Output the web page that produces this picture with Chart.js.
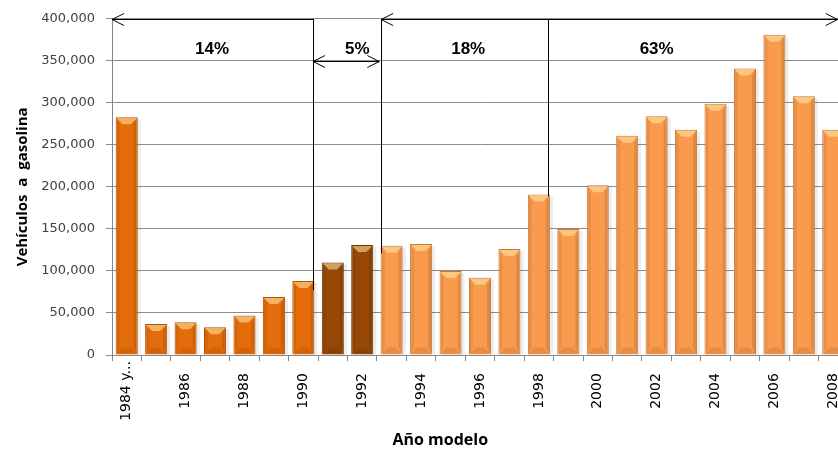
<!DOCTYPE html>
<html>
<head>
<meta charset="utf-8">
<script src="https://cdn.jsdelivr.net/npm/chart.js@4.4.0/dist/chart.umd.min.js"></script>
<style>
  html, body { margin: 0; padding: 0; background: #fff; overflow: hidden; width: 838px; height: 451px; }
  canvas { display: block; }
</style>
</head>
<body>
<canvas id="myChart" width="850" height="451"></canvas>
<script>
const years = ["1984 y...", "1985", "1986", "1987", "1988", "1989", "1990", "1991", "1992",
  "1993", "1994", "1995", "1996", "1997", "1998", "1999", "2000", "2001", "2002",
  "2003", "2004", "2005", "2006", "2007", "2008"];
const vehicles = [283000, 37000, 39000, 33000, 47000, 69000, 88000, 110000, 131000,
  130000, 132000, 100000, 92000, 126000, 191000, 150000, 202000, 261000, 284000,
  268000, 299000, 341000, 381000, 308000, 268000];
// which period each model year belongs to (0 = 14%, 1 = 5%, 2 = 18% and 63%)
const groups = [0, 0, 0, 0, 0, 0, 0, 1, 1, 2, 2, 2, 2, 2, 2, 2, 2, 2, 2, 2, 2, 2, 2, 2, 2];
const yTicks = [0, 50000, 100000, 150000, 200000, 250000, 300000, 350000, 400000];
const shares = ["14%", "5%", "18%", "63%"];

const fills = ["#e46c0a", "#974806", "#f99a4c"];
const borders = ["#b25408", "#6e3404", "#c8763a"];

// period markers, in category index / value units
const dividers = [
  { x: 6.33, from: 400000, to: 77000 },
  { x: 8.64, from: 400000, to: 121000 },
  { x: 14.31, from: 400000, to: 189000 },
];
const spans = [
  { x1: -0.5, x2: 6.33, y: 400000, left: true, right: false },
  { x1: 6.33, x2: 8.58, y: 350000, left: true, right: true },
  { x1: 8.64, x2: 24.15, y: 400000, left: true, right: true },
];
const shareSpots = [{ x: 2.9, y: 364000 }, { x: 7.83, y: 364000 }, { x: 11.6, y: 364000 }, { x: 18.0, y: 364000 }];

function poly(ctx, pts, fill) {
  ctx.beginPath();
  ctx.moveTo(pts[0][0], pts[0][1]);
  for (let i = 1; i < pts.length; i++) ctx.lineTo(pts[i][0], pts[i][1]);
  ctx.closePath();
  ctx.fillStyle = fill;
  ctx.fill();
}

// soft shadow behind and bevel on top of each bar
const bevel = {
  id: "bevel",
  beforeDatasetsDraw(chart) {
    const ctx = chart.ctx;
    ctx.save();
    chart.getDatasetMeta(0).data.forEach(b => {
      const l = b.x - b.width / 2;
      ctx.fillStyle = "rgba(0,0,0,0.07)";
      ctx.fillRect(l + 2, b.y + 2, b.width + 1, b.base - b.y - 2);
    });
    ctx.restore();
  },
  afterDatasetsDraw(chart) {
    const ctx = chart.ctx;
    ctx.save();
    chart.getDatasetMeta(0).data.forEach(b => {
      const l = b.x - b.width / 2 + 1, r = b.x + b.width / 2 - 1;
      const t = b.y + 1, btm = b.base - 1;
      const d = 6, s = 3;
      poly(ctx, [[l, t], [r, t], [r - d, t + d], [l + d, t + d]], "rgba(255,236,170,0.55)");
      poly(ctx, [[l, btm], [r, btm], [r - d, btm - d], [l + d, btm - d]], "rgba(0,0,0,0.08)");
      poly(ctx, [[l, t], [l + s, t + d], [l + s, btm - d], [l, btm]], "rgba(0,0,0,0.07)");
      poly(ctx, [[r, t], [r - s, t + d], [r - s, btm - d], [r, btm]], "rgba(0,0,0,0.11)");
    });
    ctx.restore();
  }
};

const notes = {
  id: "notes",
  afterDraw(chart) {
    const { ctx, chartArea } = chart;
    const xs = chart.scales.x, ys = chart.scales.y;
    ctx.save();
    ctx.strokeStyle = "#000";
    ctx.lineWidth = 1;
    dividers.forEach(d => {
      const x = Math.round(xs.getPixelForValue(d.x)) + 0.5;
      ctx.beginPath();
      ctx.moveTo(x, ys.getPixelForValue(d.from));
      ctx.lineTo(x, ys.getPixelForValue(d.to));
      ctx.stroke();
    });
    spans.forEach(s => {
      const x1 = xs.getPixelForValue(s.x1), x2 = xs.getPixelForValue(s.x2);
      const y = Math.round(ys.getPixelForValue(s.y)) + 0.5;
      ctx.beginPath();
      ctx.moveTo(x1, y);
      ctx.lineTo(x2, y);
      if (s.left) {
        ctx.moveTo(x1 + 12, y - 6); ctx.lineTo(x1, y); ctx.lineTo(x1 + 12, y + 6);
      }
      if (s.right) {
        ctx.moveTo(x2 - 12, y - 6); ctx.lineTo(x2, y); ctx.lineTo(x2 - 12, y + 6);
      }
      ctx.stroke();
    });
    ctx.fillStyle = "#000";
    ctx.font = "bold 17px 'Liberation Sans', Arial, sans-serif";
    ctx.textAlign = "center";
    ctx.textBaseline = "middle";
    shares.forEach((t, i) => {
      ctx.fillText(t, xs.getPixelForValue(shareSpots[i].x), ys.getPixelForValue(shareSpots[i].y));
    });

    // year labels: every other one, rotated and centred in the band under the axis
    ctx.font = "14px 'DejaVu Sans', Verdana, sans-serif";
    years.forEach((t, i) => {
      if (i % 2) return;
      ctx.save();
      ctx.translate(xs.getPixelForTick(i), 391);
      ctx.rotate(-Math.PI / 2);
      ctx.fillText(t, 0, 0);
      ctx.restore();
    });

    // x axis title (sits left of the plot centre in the original)
    ctx.font = "bold 16px 'Open Sans', 'Liberation Sans', sans-serif";
    ctx.fillText("Año modelo", chartArea.left + (chartArea.right - chartArea.left) * 0.446, 440);
    ctx.restore();
  }
};

const config = {
  type: "bar",
  data: {
    labels: years,
    datasets: [
      {
        label: "Vehículos a gasolina",
        data: vehicles,
        backgroundColor: groups.map(g => fills[g]),
        borderColor: groups.map(g => borders[g]),
        borderWidth: 1,
        barPercentage: 0.75,
        categoryPercentage: 1,
      },
    ],
  },
  options: {
    responsive: false,
    animation: false,
    events: [],
    layout: { padding: { top: 17, right: 2, left: 0, bottom: 0 } },
    plugins: {
      legend: { display: false },
      tooltip: { enabled: false },
    },
    scales: {
      x: {
        grid: { display: true, drawOnChartArea: false, color: "#868686", tickLength: 6, offset: true },
        border: { color: "#868686" },
        ticks: { display: false },
        afterFit: s => { s.height = 96; },
      },
      y: {
        min: 0,
        max: 400000,
        afterBuildTicks: s => { s.ticks = yTicks.map(v => ({ value: v })); },
        grid: { color: "#8c8c8c", tickLength: 6 },
        border: { color: "#868686" },
        ticks: {
          padding: 11,
          color: "#404040",
          font: { family: "'DejaVu Sans', Verdana, sans-serif", size: 13 },
          callback: v => v.toLocaleString("en-US"),
        },
        title: {
          display: true,
          text: "Vehículos  a  gasolina",
          color: "#000",
          padding: { top: 14, bottom: 0 },
          font: { family: "'Open Sans', 'Liberation Sans', sans-serif", size: 15, weight: "bold" },
        },
        afterFit: s => { s.width = 112; },
      },
    },
  },
  plugins: [bevel, notes],
};

new Chart(document.getElementById("myChart").getContext("2d"), config);
</script>
</body>
</html>
